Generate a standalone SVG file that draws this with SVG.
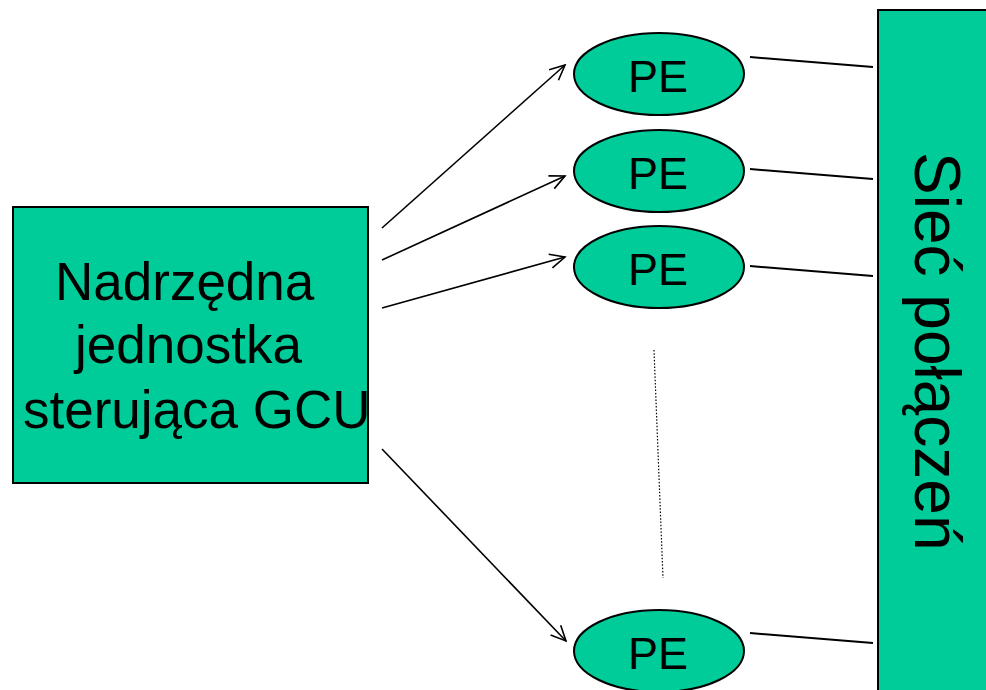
<svg xmlns="http://www.w3.org/2000/svg" width="986" height="690" viewBox="0 0 986 690">
  <style>
    .box { fill: #00CC99; stroke: #000; stroke-width: 2; }
    .lbl { font-family: "Liberation Sans", Arial, sans-serif; fill: #000; }
    .arrow { stroke: #000; stroke-width: 1.6; fill: none; marker-end: url(#open); }
    .link { stroke: #000; stroke-width: 2; fill: none; }
    .dots { stroke: #000; stroke-width: 1.2; stroke-dasharray: 1.5 1.8; fill: none; }
  </style>
  <defs>
    <marker id="open" viewBox="0 0 20 20" refX="18" refY="10" markerWidth="20" markerHeight="20" markerUnits="userSpaceOnUse" orient="auto">
      <path d="M3,3 L18,10 L3,17" fill="none" stroke="#000" stroke-width="1.6"/>
    </marker>
  </defs>

  <rect width="986" height="690" fill="#fff"/>

  <!-- control unit -->
  <g id="gcu">
    <rect class="box" x="13" y="207" width="355" height="276"/>
    <text class="lbl" font-size="53" x="55" y="300">Nadrzędna</text>
    <text class="lbl" font-size="53" x="75" y="363">jednostka</text>
    <text class="lbl" font-size="53" x="23" y="428">sterująca GCU</text>
  </g>

  <!-- processing elements -->
  <g id="pe1">
    <ellipse class="box" cx="659" cy="74" rx="85" ry="41"/>
    <text class="lbl" font-size="45" x="658" y="92" text-anchor="middle">PE</text>
  </g>
  <g id="pe2">
    <ellipse class="box" cx="659" cy="171" rx="85" ry="41"/>
    <text class="lbl" font-size="45" x="658" y="189" text-anchor="middle">PE</text>
  </g>
  <g id="pe3">
    <ellipse class="box" cx="659" cy="267" rx="85" ry="41"/>
    <text class="lbl" font-size="45" x="658" y="285" text-anchor="middle">PE</text>
  </g>
  <g id="pe4">
    <ellipse class="box" cx="659" cy="651" rx="85" ry="41"/>
    <text class="lbl" font-size="45" x="658" y="669" text-anchor="middle">PE</text>
  </g>

  <!-- interconnection network -->
  <g id="network">
    <rect class="box" x="878" y="10" width="120" height="690"/>
    <text class="lbl" font-size="64" transform="translate(915,152) rotate(90)">Sieć połączeń</text>
  </g>

  <g id="connectors">
    <line class="arrow" x1="382" y1="228" x2="565" y2="65"/>
    <line class="arrow" x1="382" y1="260" x2="565" y2="176"/>
    <line class="arrow" x1="382" y1="308" x2="565" y2="257"/>
    <line class="arrow" x1="382" y1="449" x2="566" y2="641"/>
    <line class="link" x1="750" y1="57" x2="873" y2="67"/>
    <line class="link" x1="750" y1="169" x2="873" y2="179"/>
    <line class="link" x1="750" y1="266" x2="873" y2="276"/>
    <line class="link" x1="750" y1="633" x2="873" y2="643"/>
    <line class="dots" x1="654" y1="350" x2="663" y2="578"/>
  </g>
</svg>
